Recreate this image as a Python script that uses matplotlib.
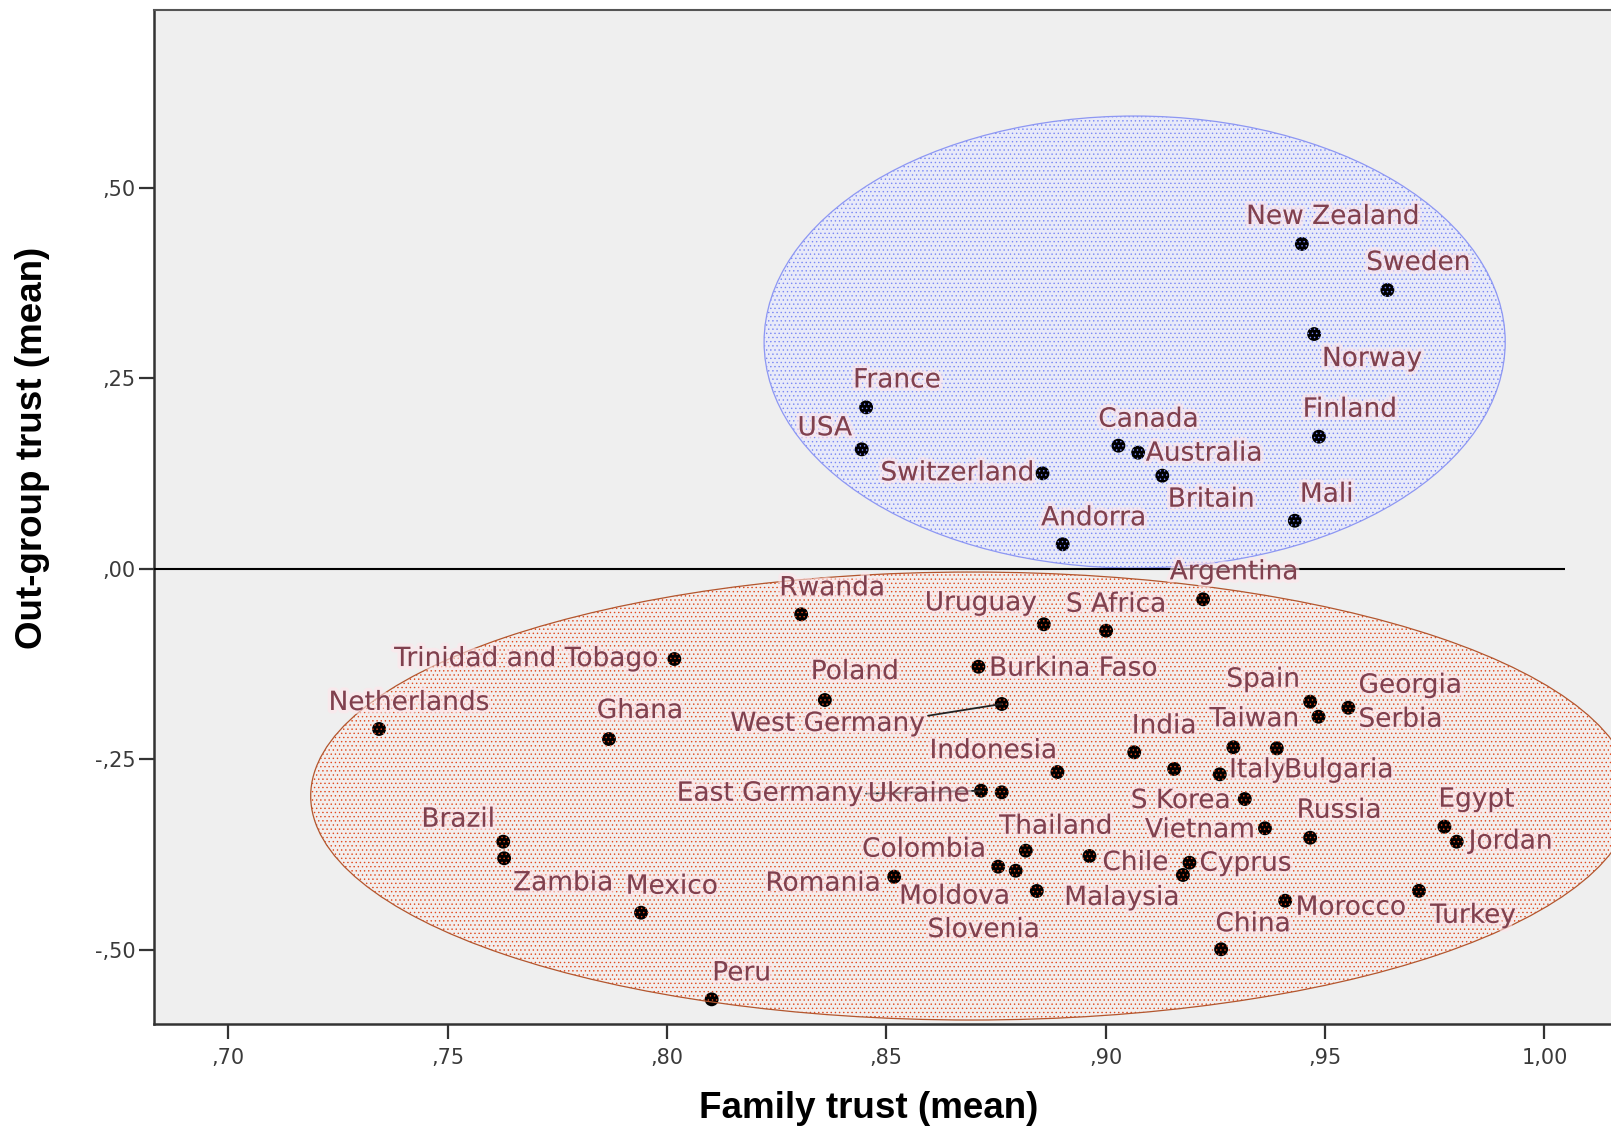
import matplotlib
matplotlib.use("Agg")
import matplotlib.pyplot as plt
from matplotlib.patches import Ellipse
import matplotlib.patheffects as pe

# ---------------- data ----------------
countries = [
    "New Zealand", "Sweden", "Norway", "France", "USA", "Canada", "Australia",
    "Finland", "Switzerland", "Britain", "Mali", "Andorra",
    "Argentina", "Rwanda", "Uruguay", "S Africa", "Trinidad and Tobago",
    "Burkina Faso", "Poland", "West Germany", "Netherlands", "Ghana", "Spain",
    "Serbia", "Georgia", "India", "", "Italy", "Taiwan", "Bulgaria",
    "Indonesia", "East Germany", "Ukraine", "S Korea", "Vietnam", "Russia",
    "Egypt", "Jordan", "Brazil", "Zambia", "Mexico", "Peru", "Thailand",
    "Colombia", "Moldova", "Romania", "Slovenia", "Chile", "Cyprus",
    "Malaysia", "Morocco", "China", "Turkey",
]
family_trust = [
    0.9447, 0.9642, 0.9475, 0.8454, 0.8444, 0.9029, 0.9074,
    0.9486, 0.8856, 0.9129, 0.9431, 0.8902,
    0.9222, 0.8306, 0.8859, 0.9001, 0.8017,
    0.8710, 0.8360, 0.8763, 0.7344, 0.7868, 0.9466,
    0.9485, 0.9553, 0.9065, 0.9156, 0.9260, 0.9291, 0.9390,
    0.8890, 0.8716, 0.8763, 0.9317, 0.9363, 0.9466,
    0.9772, 0.9800, 0.7627, 0.7629, 0.7941, 0.8102, 0.8818,
    0.8755, 0.8795, 0.8518, 0.8843, 0.8963, 0.9191,
    0.9176, 0.9409, 0.9263, 0.9714,
]
outgroup_trust = [
    0.4259, 0.3655, 0.3077, 0.2115, 0.1564, 0.1612, 0.1520,
    0.1730, 0.1249, 0.1218, 0.0627, 0.0318,
    -0.0404, -0.0601, -0.0732, -0.0816, -0.1188,
    -0.1289, -0.1726, -0.1778, -0.2106, -0.2238, -0.1748,
    -0.1945, -0.1827, -0.2412, -0.2631, -0.2701, -0.2346, -0.2360,
    -0.2671, -0.2916, -0.2937, -0.3025, -0.3409, -0.3533,
    -0.3388, -0.3585, -0.3585, -0.3803, -0.4517, -0.5654, -0.3703,
    -0.3913, -0.3966, -0.4045, -0.4232, -0.3773, -0.3861,
    -0.4022, -0.4360, -0.4997, -0.4230,
]
x_ticks = [0.70, 0.75, 0.80, 0.85, 0.90, 0.95, 1.00]
x_tick_labels = [",70", ",75", ",80", ",85", ",90", ",95", "1,00"]
y_ticks = [0.50, 0.25, 0.00, -0.25, -0.50]
y_tick_labels = [",50", ",25", ",00", "-,25", "-,50"]

# ---------------- layout (label offsets in pixels) ----------------
label_offsets = {
    "New Zealand": (31, 27), "Sweden": (31, 27), "Norway": (58, -25),
    "France": (31, 27), "USA": (-37, 21), "Canada": (30, 26),
    "Australia": (66, -1), "Finland": (31, 27), "Switzerland": (-85, 0),
    "Britain": (49, -24), "Mali": (32, 26), "Andorra": (31, 26),
    "Argentina": (31, 27), "Rwanda": (31, 26), "Uruguay": (-63, 21),
    "S Africa": (10, 26), "Trinidad and Tobago": (-148, 0),
    "Burkina Faso": (95, -2), "Poland": (30, 28), "West Germany": (-174, -20),
    "Netherlands": (30, 26), "Ghana": (31, 28), "Spain": (-47, 22),
    "Serbia": (82, -3), "Georgia": (62, 22), "India": (30, 26),
    "Italy": (38, 4), "Taiwan": (21, 28), "Bulgaria": (62, -22),
    "Indonesia": (-64, 21), "East Germany": (-211, -3), "Ukraine": (-83, -2),
    "S Korea": (-64, -2), "Vietnam": (-65, -2), "Russia": (29, 27),
    "Egypt": (32, 27), "Jordan": (54, 0), "Brazil": (-45, 22),
    "Zambia": (59, -25), "Mexico": (31, 26), "Peru": (30, 26),
    "Thailand": (30, 24), "Colombia": (-74, 17), "Moldova": (-61, -26),
    "Romania": (-71, -7), "Slovenia": (-53, -39), "Chile": (46, -7),
    "Cyprus": (56, -1), "Malaysia": (-61, -23), "Morocco": (66, -7),
    "China": (32, 25), "Turkey": (54, -25),
}
leader_relpos = {"West Germany": (1.0, 0.8), "East Germany": (1.0, 0.5)}

plt.rcParams["hatch.linewidth"] = 0.5

W, H = 1611, 1129
fig = plt.figure(figsize=(W / 100, H / 100), dpi=100, facecolor="white")
ax = fig.add_axes([154 / W, 1 - 1024.3 / H, (W - 154) / W, (1024.3 - 9.5) / H])
ax.set_facecolor("#efefef")
ax.set_xlim(0.68311, 1.01516)
ax.set_ylim(-0.59816, 0.73360)

# ellipses: face, hatch (over points), outline
blue_c, blue_w, blue_h = (0.9066, 0.2972), 0.1689, 0.5932
red_c, red_w, red_h = (0.86946, -0.2986), 0.30128, 0.5879

ax.add_patch(Ellipse(blue_c, blue_w, blue_h, facecolor="#e8eaf9", edgecolor="none", zorder=1))
ax.add_patch(Ellipse(red_c, red_w, red_h, facecolor="#f3eeed", edgecolor="none", zorder=1))

ax.scatter(family_trust, outgroup_trust, s=100, color="black", edgecolors="none", zorder=2)

ax.add_patch(Ellipse(blue_c, blue_w, blue_h, fill=False, hatch="....",
                     edgecolor="#7a88f4", linewidth=0, zorder=3))
ax.add_patch(Ellipse(red_c, red_w, red_h, fill=False, hatch="....",
                     edgecolor="#e04a1e", linewidth=0, zorder=3))
ax.add_patch(Ellipse(blue_c, blue_w, blue_h, fill=False, edgecolor="#8d97f3",
                     linewidth=0.9, zorder=3.2))
ax.add_patch(Ellipse(red_c, red_w, red_h, fill=False, edgecolor="#b3562e",
                     linewidth=0.9, zorder=3.2))

# zero reference line
ax.plot([0.68311, 1.0047], [0, 0], color="black", linewidth=1.5, zorder=3.5,
        solid_capstyle="butt")

halo = [pe.withStroke(linewidth=5, foreground=(1.0, 0.90, 0.92, 0.6))]
for name, xv, yv in zip(countries, family_trust, outgroup_trust):
    if not name:
        continue
    dx, dy = label_offsets[name]
    kw = {}
    if name in leader_relpos:
        kw["arrowprops"] = dict(arrowstyle="-", color="#222222", lw=1.3,
                                relpos=leader_relpos[name], shrinkA=0, shrinkB=0)
    ax.annotate(name, (xv, yv), xytext=(dx, dy), textcoords="offset pixels",
                ha="center", va="center", fontsize=19, family="DejaVu Sans",
                color="#80404e", zorder=4, path_effects=halo, **kw)

# axes styling
for side in ("left", "bottom"):
    ax.spines[side].set_linewidth(1.8)
    ax.spines[side].set_color("#333333")
ax.spines["top"].set_linewidth(1.5)
ax.spines["top"].set_color("#555555")
ax.spines["right"].set_visible(False)

ax.set_xticks(x_ticks)
ax.set_xticklabels(x_tick_labels)
ax.set_yticks(y_ticks)
ax.set_yticklabels(y_tick_labels)
ax.tick_params(axis="both", direction="out", length=11, width=1.6, color="#333333",
               labelsize=15, labelcolor="#3a3a3a")
ax.tick_params(axis="x", pad=6)
ax.tick_params(axis="y", pad=2)

ax.set_xlabel("Family trust (mean)", fontsize=26.5, fontweight="bold",
              family="Liberation Sans", color="black", va="center", ha="center")
ax.set_ylabel("Out-group trust (mean)", fontsize=26.5, fontweight="bold",
              family="Liberation Sans", color="black", va="center", ha="center")
ax_w = W - 154
ax_h = 1024.3 - 9.5
ax.xaxis.set_label_coords((869 - 154) / ax_w, -(1109 - 1024.3) / ax_h)
ax.yaxis.set_label_coords(-(154 - 33) / ax_w, (1024.3 - 448) / ax_h)

fig.savefig("out.png", dpi=100, facecolor="white")
